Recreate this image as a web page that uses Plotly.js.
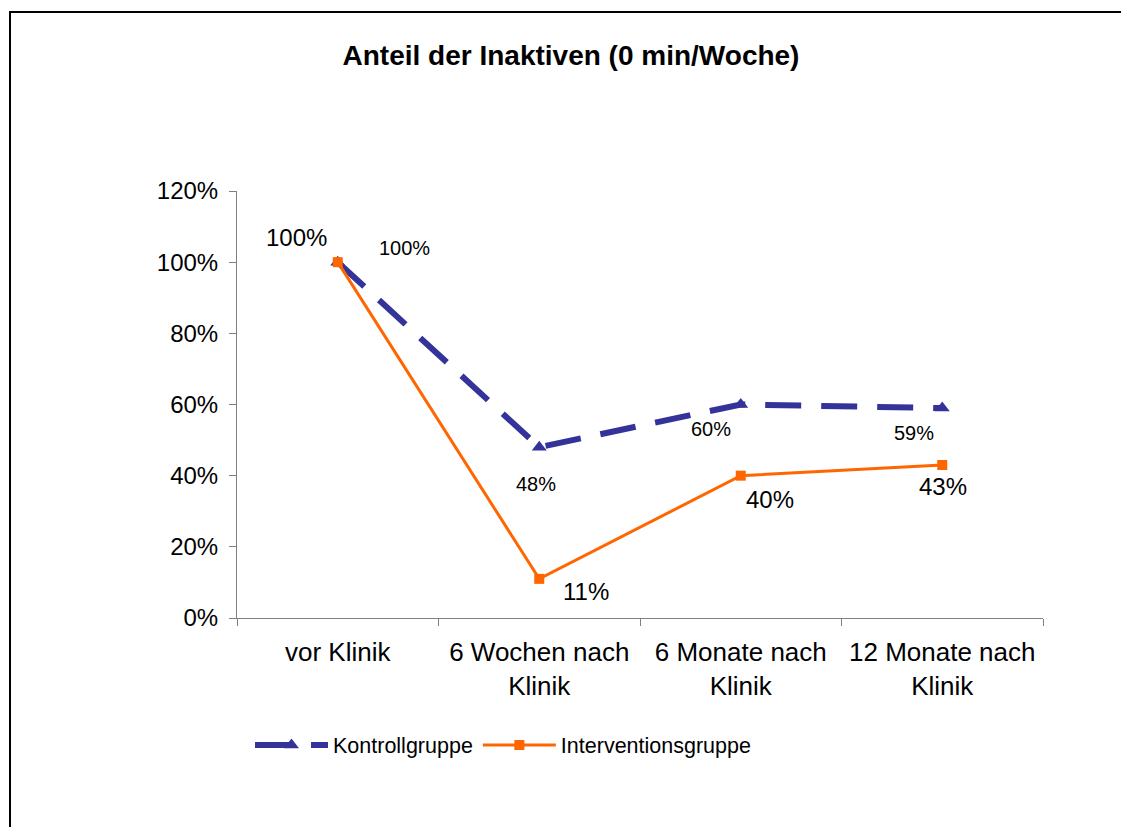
<!DOCTYPE html>
<html>
<head>
<meta charset="utf-8">
<script src="https://cdn.plot.ly/plotly-3.0.1.min.js"></script>
<style>
  html, body { margin: 0; padding: 0; background: #ffffff; overflow: hidden; width: 1121px; height: 827px; }
  #chart { position: absolute; left: 0; top: 0; width: 1121px; height: 827px; }
  .edge { position: absolute; background: #000; pointer-events: none; }
  #edgeTop { left: 9px; top: 11px; width: 1112px; height: 2px; }
  #edgeLeft { left: 9px; top: 11px; width: 2px; height: 816px; }
</style>
</head>
<body>
<div id="chart"></div>
<div id="edgeTop" class="edge"></div>
<div id="edgeLeft" class="edge"></div>
<script>
const categories = ["vor Klinik", "6 Wochen nach<br>Klinik", "6 Monate nach<br>Klinik", "12 Monate nach<br>Klinik"];
const kontrollName = "Kontrollgruppe";
const interventionName = "Interventionsgruppe";
const kontroll = [1.00, 0.48, 0.60, 0.59];
const intervention = [1.00, 0.11, 0.40, 0.43];
const yTicks = [0, 0.2, 0.4, 0.6, 0.8, 1.0, 1.2];

const kontrollOffsets = [[67, 14], [-3, -37], [-30, -24], [-28, -25]];
const interventionOffsets = [[-41, 25], [47, -13], [29, -24], [1, -22]];

const FONT = "Liberation Sans, Arial, sans-serif";

const traces = [
  {
    x: categories, y: kontroll, name: kontrollName, type: "scatter", mode: "lines+markers",
    line: { color: "#333399", width: 6, dash: "36px,20px" },
    marker: { symbol: "triangle-up", size: 13, color: "#333399" }
  },
  {
    x: categories, y: intervention, name: interventionName, type: "scatter", mode: "lines+markers",
    line: { color: "#FF6600", width: 3 },
    marker: { symbol: "square", size: 10, color: "#FF6600" }
  }
];

const pct = v => Math.round(v * 100) + "%";
const annotations = [];
kontroll.forEach((v, i) => annotations.push({
  x: categories[i], y: v, xref: "x", yref: "y", text: pct(v), showarrow: false,
  xshift: kontrollOffsets[i][0], yshift: kontrollOffsets[i][1],
  font: { family: FONT, size: 20, color: "#000" }
}));
intervention.forEach((v, i) => annotations.push({
  x: categories[i], y: v, xref: "x", yref: "y", text: pct(v), showarrow: false,
  xshift: interventionOffsets[i][0], yshift: interventionOffsets[i][1],
  font: { family: FONT, size: 24, color: "#000" }
}));

const layout = {
  width: 1121, height: 827,
  margin: { l: 237, r: 78, t: 191, b: 209, pad: 0 },
  paper_bgcolor: "#ffffff", plot_bgcolor: "#ffffff",
  font: { family: FONT, color: "#000" },
  title: {
    text: "<b>Anteil der Inaktiven (0 min/Woche)</b>",
    font: { family: FONT, size: 28, color: "#000" },
    x: 571 / 1121, xref: "container", xanchor: "center",
    y: 1 - 55 / 827, yref: "container", yanchor: "middle"
  },
  xaxis: {
    type: "category", range: [-0.5, 3.5], tickson: "boundaries",
    showline: true, linecolor: "#808080", linewidth: 1,
    ticks: "outside", ticklen: 7, tickcolor: "#808080", tickwidth: 1,
    showgrid: false, zeroline: false, fixedrange: true,
    tickfont: { family: FONT, size: 26, color: "#000" },
    ticklabelstandoff: 11
  },
  yaxis: {
    range: [0, 1.2], tickvals: yTicks, tickformat: ".0%",
    showline: true, linecolor: "#808080", linewidth: 1,
    ticks: "outside", ticklen: 7, tickcolor: "#808080", tickwidth: 1,
    showgrid: false, zeroline: false, fixedrange: true,
    tickfont: { family: FONT, size: 24, color: "#000" },
    ticklabelstandoff: 6
  },
  showlegend: true,
  legend: {
    orientation: "h", x: 250 / 1121, xref: "container", xanchor: "left",
    y: 1 - 745 / 827, yref: "container", yanchor: "middle",
    font: { family: FONT, size: 21.5, color: "#000" },
    bgcolor: "rgba(0,0,0,0)", itemwidth: 73
  },
  annotations: annotations
};

Plotly.newPlot("chart", traces, layout, { displayModeBar: false, staticPlot: true });
</script>
</body>
</html>
